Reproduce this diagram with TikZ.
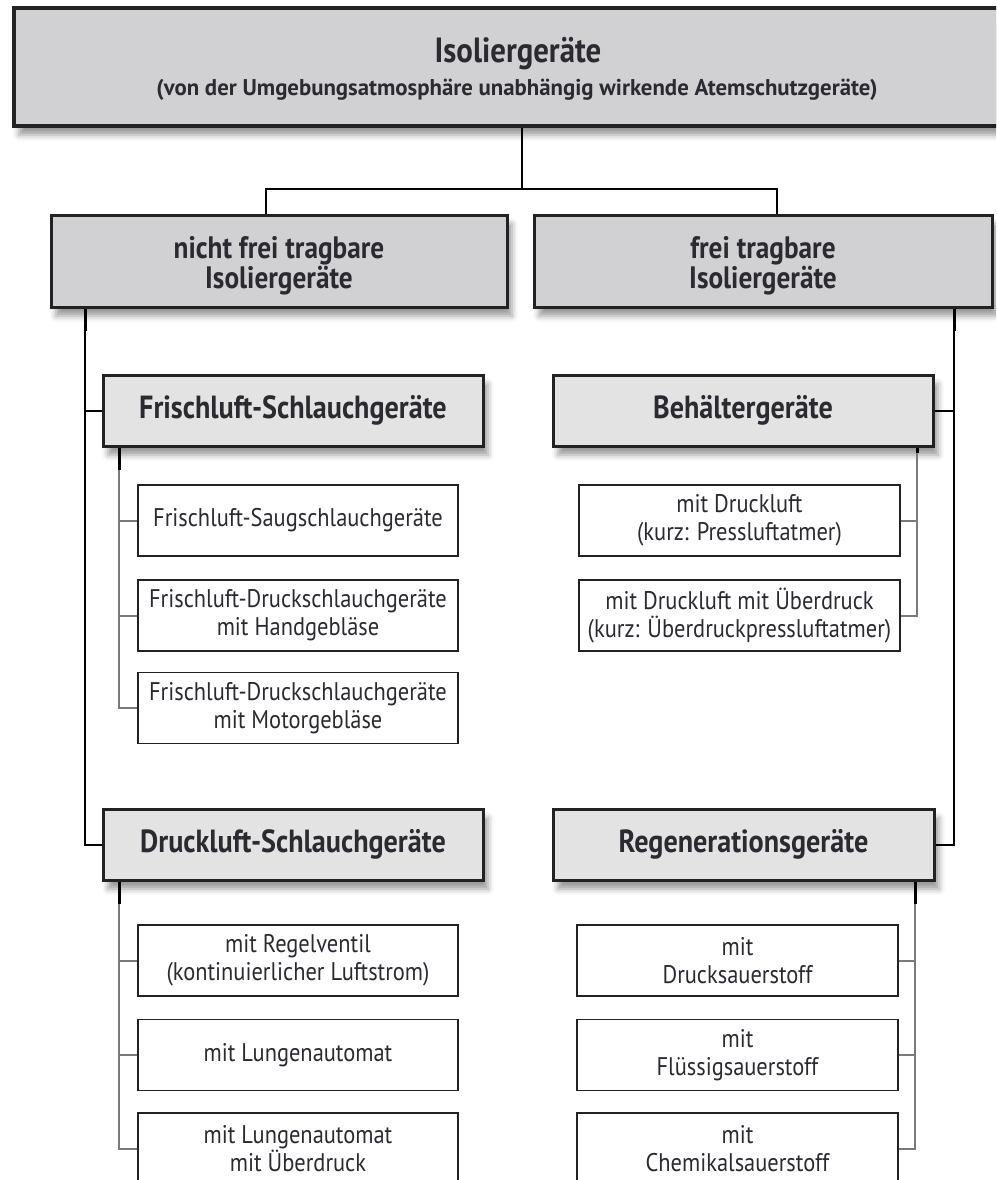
\documentclass[tikz,border=0pt]{standalone}
\usepackage{fontspec}
\setmainfont[FakeStretch=0.88]{PT Sans}
\newfontfamily\widefont{PT Sans}
\usetikzlibrary{shadows.blur,calc}
\definecolor{boxgray}{HTML}{D1D1D3}
\definecolor{boxgrayb}{HTML}{E3E3E4}
\definecolor{linegray}{HTML}{7A7A7A}
\definecolor{edge}{HTML}{222222}
\definecolor{txt}{HTML}{2A2A30}
\tikzset{
  shad/.style={blur shadow={shadow xshift=5pt, shadow yshift=-9pt, shadow blur radius=6pt, shadow opacity=40}},
  topbox/.style={draw=edge, line width=3.5pt, fill=boxgray, inner sep=0pt, shad},
  lvtwo/.style={draw=edge, line width=3pt, fill=boxgray, inner sep=0pt, align=center, text=txt,
     font=\bfseries\fontsize{31}{30}\selectfont, shad},
  lvthree/.style={draw=edge, line width=3pt, fill=boxgrayb, inner sep=0pt, align=center, text=txt,
     font=\bfseries\fontsize{32}{30}\selectfont, shad},
  leaf/.style={draw=edge, line width=1.5pt, fill=white, inner sep=0pt, align=center, text=txt,
     minimum width=320pt, minimum height=71pt, font=\fontsize{25.5}{28}\selectfont},
  ttl/.style={anchor=base, inner sep=0pt, text=txt},
  mainline/.style={draw=black, line width=2.5pt},
  subline/.style={draw=black, line width=2pt},
  leafline/.style={draw=linegray, line width=2pt},
  stub/.style={draw=black, line width=3pt},
}
\newcommand{\lowstrut}{\rule{0pt}{31pt}}
\begin{document}
\begin{tikzpicture}[x=1pt,y=-1pt]
\useasboundingbox (0,0) rectangle (996,1180);
\clip (0,0) rectangle (996,1180);
% top
\node[topbox, minimum width=1006pt, minimum height=118pt] (top) at (517,67) {};
\node[ttl, font=\bfseries\fontsize{35}{38}\selectfont] (title) at (518,63) {Isoliergeräte};
\node[ttl, font=\widefont\bfseries\fontsize{22.8}{26}\selectfont] (subtitle) at (517,96)
  {(von der Umgebungsatmosphäre unabhängig wirkende Atemschutzgeräte)};
% level 2
\node[lvtwo, minimum width=456pt, minimum height=92pt] (nf) at (279,261) {\lowstrut nicht frei tragbare\\Isoliergeräte};
\node[lvtwo, minimum width=458pt, minimum height=92pt] (ff) at (763,261) {\lowstrut frei tragbare\\Isoliergeräte};
% level 3
\node[lvthree, minimum width=380pt, minimum height=71pt] (fs) at (293,410.5) {Frischluft-Schlauchgeräte};
\node[lvthree, minimum width=380pt, minimum height=71pt] (ds) at (293,844.5) {Druckluft-Schlauchgeräte};
\node[lvthree, minimum width=380pt, minimum height=71pt] (bg) at (743,410.5) {Behältergeräte};
\node[lvthree, minimum width=381pt, minimum height=71pt] (rg) at (743.5,844.5) {Regenerationsgeräte};
% leaves left
\node[leaf] (a1) at (298,520.5) {Frischluft-Saugschlauchgeräte};
\node[leaf] (a2) at (298,615.5) {Frischluft-Druckschlauchgeräte\\mit Handgebläse};
\node[leaf] (a3) at (298,708) {Frischluft-Druckschlauchgeräte\\mit Motorgebläse};
\node[leaf] (b1) at (298,960.5) {mit Regelventil\\(kontinuierlicher Luftstrom)};
\node[leaf] (b2) at (298,1055) {mit Lungenautomat};
\node[leaf] (b3) at (298,1148.5) {mit Lungenautomat\\mit Überdruck};
% leaves right
\node[leaf, minimum width=321pt] (c1) at (739.5,520.5) {mit Druckluft\\(kurz: Pressluftatmer)};
\node[leaf, minimum width=321pt] (c2) at (739.5,615.5) {mit Druckluft mit Überdruck\\(kurz: Überdruckpressluftatmer)};
\node[leaf, minimum width=321pt] (d1) at (737.5,960.5) {mit\\Drucksauerstoff};
\node[leaf, minimum width=321pt] (d2) at (737.5,1055) {mit\\Flüssigsauerstoff};
\node[leaf, minimum width=321pt] (d3) at (737.5,1148.5) {mit\\Chemikalsauerstoff};
% top connectors
\coordinate (j) at (522,189);
\coordinate (jl) at (266,189);
\coordinate (jr) at (777,189);
\draw[mainline] (top.south -| j) -- (j);
\draw[mainline] (nf.north -| jl) -- (jl) -- (jr) -- (ff.north -| jr);
% left trunk
\coordinate (lx) at (85,0);
\draw[subline] (nf.south -| lx) |- (ds.west);
\draw[subline] (fs.west) -- (fs.west -| lx);
\draw[stub] (nf.south -| lx) -- ++(0,22);
% right trunk
\coordinate (rx) at (954,0);
\draw[subline] (ff.south -| rx) |- (rg.east);
\draw[subline] (bg.east) -- (bg.east -| rx);
\draw[stub] (ff.south -| rx) -- ++(0,22);
% leaf connectors left
\coordinate (ax) at (119,0);
\draw[leafline] (fs.south -| ax) |- (a3.west);
\draw[leafline] (a1.west) -- (a1.west -| ax);
\draw[leafline] (a2.west) -- (a2.west -| ax);
\draw[stub] (fs.south -| ax) -- ++(0,22);
\draw[leafline] (ds.south -| ax) |- (b3.west);
\draw[leafline] (b1.west) -- (b1.west -| ax);
\draw[leafline] (b2.west) -- (b2.west -| ax);
\draw[stub] (ds.south -| ax) -- ++(0,22);
% leaf connectors right
\coordinate (cx) at (917,0);
\draw[leafline] (bg.south -| cx) |- (c2.east);
\draw[leafline] (c1.east) -- (c1.east -| cx);
\draw[stub] (bg.south -| cx) -- ++(0,5);
\coordinate (dx) at (915,0);
\draw[leafline] (rg.south -| dx) |- (d3.east);
\draw[leafline] (d1.east) -- (d1.east -| dx);
\draw[leafline] (d2.east) -- (d2.east -| dx);
\draw[stub] (rg.south -| dx) -- ++(0,22);
\end{tikzpicture}
\end{document}
